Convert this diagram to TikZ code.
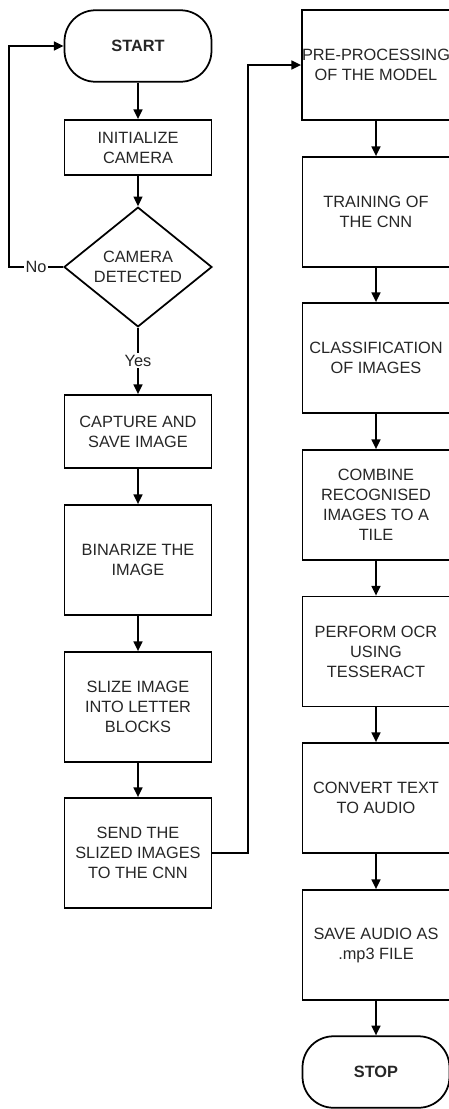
\documentclass[tikz,border=0pt]{standalone}
\usepackage{fontspec}
\setmainfont{Liberation Sans}
\usetikzlibrary{shapes.geometric,arrows.meta}

\begin{document}
\begin{tikzpicture}[x=0.02cm, y=-0.02cm, line width=1pt,
    every node/.style={font=\fontsize{9.3}{11.4}\selectfont, text=black!85},
    box/.style={draw, rectangle, align=center, inner sep=0pt, minimum width=2.94cm, minimum height=2.2cm},
    term/.style={draw, rectangle, rounded corners=0.62cm, align=center, inner sep=0pt, minimum width=2.94cm, minimum height=1.43cm, font=\fontsize{9.3}{11.4}\selectfont\bfseries},
    decide/.style={draw, diamond, align=center, inner sep=0pt, minimum width=2.96cm, minimum height=2.2cm},
    arr/.style={-{Triangle[length=5.5pt, width=5pt]}},
    lbl/.style={fill=white, inner sep=1pt}]
    \useasboundingbox (0,0) rectangle (449,1109);

    % left column
    \node [term] (start) at (138,46) {START};
    \node [box, minimum height=1.1cm] (init) at (138,147.5) {INITIALIZE\\CAMERA};
    \node [decide] (detect) at (138,267) {CAMERA\\DETECTED};
    \node [box, minimum height=1.46cm] (capture) at (138,431.5) {CAPTURE AND\\SAVE IMAGE};
    \node [box] (binarize) at (138,560) {BINARIZE THE\\IMAGE};
    \node [box] (slize) at (138,707) {SLIZE IMAGE\\INTO LETTER\\BLOCKS};
    \node [box] (send) at (138,853) {SEND THE\\SLIZED IMAGES\\TO THE CNN};

    % right column
    \node [box] (pre) at (376,65) {PRE-PROCESSING\\OF THE MODEL};
    \node [box] (train) at (376,212) {TRAINING OF\\THE CNN};
    \node [box] (classify) at (376,358) {CLASSIFICATION\\OF IMAGES};
    \node [box] (combine) at (376,505) {COMBINE\\RECOGNISED\\IMAGES TO A\\TILE};
    \node [box] (ocr) at (376,651.5) {PERFORM OCR\\USING\\TESSERACT};
    \node [box] (convert) at (376,798) {CONVERT TEXT\\TO AUDIO};
    \node [box] (save) at (376,945) {SAVE AUDIO AS\\.mp3 FILE};
    \node [term] (stop) at (376,1072) {STOP};

    \draw [arr] (start) -- (init);
    \draw [arr] (init) -- (detect);
    \draw [arr] (detect.west) -- ++(-54,0) node [lbl, pos=0.5] {No} |- (start.west);
    \draw [arr] (detect.south) -- node [lbl] {Yes} (capture.north);
    \draw [arr] (capture) -- (binarize);
    \draw [arr] (binarize) -- (slize);
    \draw [arr] (slize) -- (send);
    \draw [arr] (send.east) -- ++(36,0) |- (pre.west);

    \draw [arr] (pre) -- (train);
    \draw [arr] (train) -- (classify);
    \draw [arr] (classify) -- (combine);
    \draw [arr] (combine) -- (ocr);
    \draw [arr] (ocr) -- (convert);
    \draw [arr] (convert) -- (save);
    \draw [arr] (save) -- (stop);
\end{tikzpicture}
\end{document}
